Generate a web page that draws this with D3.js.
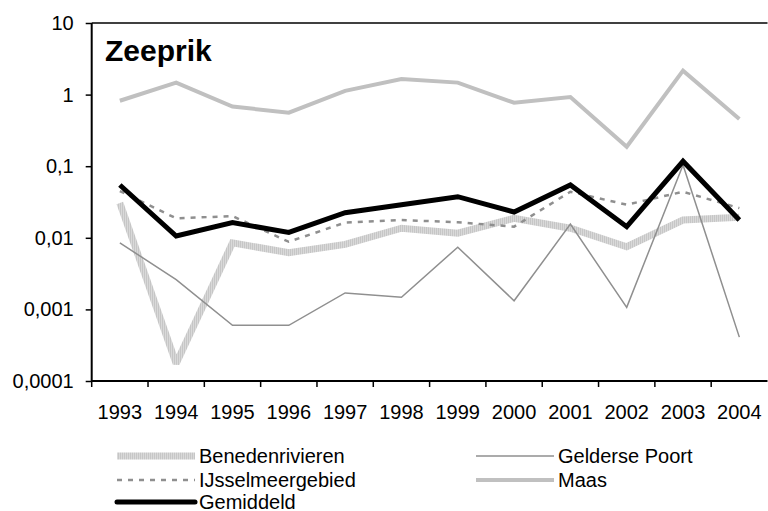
<!DOCTYPE html>
<html>
<head>
<meta charset="utf-8">
<script src="https://cdn.jsdelivr.net/npm/d3@7"></script>
<style>
  body { margin: 0; background: #fff; }
  text { font-family: "Liberation Sans", Arial, sans-serif; }
</style>
</head>
<body>
<div id="chart"></div>
<script>
var years = ["1993","1994","1995","1996","1997","1998","1999","2000","2001","2002","2003","2004"];

var benedenrivieren = [0.0306, 0.000175, 0.0085, 0.0062, 0.0081, 0.0136, 0.0116, 0.0187, 0.0136, 0.0075, 0.0177, 0.0193];
var geldersePoort   = [0.0085, 0.0026, 0.0006, 0.0006, 0.0017, 0.00148, 0.0074, 0.00132, 0.0155, 0.00107, 0.104, 0.00041];
var ijsselmeer      = [0.045, 0.0187, 0.0201, 0.0088, 0.0163, 0.0177, 0.0165, 0.0143, 0.044, 0.029, 0.044, 0.026];
var maas            = [0.82, 1.47, 0.68, 0.56, 1.13, 1.65, 1.47, 0.77, 0.925, 0.187, 2.16, 0.456];
var gemiddeld       = [0.0546, 0.0106, 0.0163, 0.0119, 0.0224, 0.029, 0.0375, 0.0229, 0.0546, 0.0143, 0.117, 0.0177];

var yTicks = [0.0001, 0.001, 0.01, 0.1, 1, 10];
var yTickLabels = ["0,0001", "0,001", "0,01", "0,1", "1", "10"];
var title = "Zeeprik";

var W = 768, H = 511;
var plot = {left: 91.7, right: 767.5, top: 23, bottom: 381};

var x = d3.scaleBand()
          .domain(years)
          .range([plot.left, plot.right]);

var y = d3.scaleLog()
          .domain([0.0001, 10])
          .range([plot.bottom, plot.top]);

var svg = d3.select("#chart")
            .append("svg")
              .attr("width", W)
              .attr("height", H);

// striped texture for Benedenrivieren
var pat = svg.append("defs").append("pattern")
    .attr("id", "stripes")
    .attr("patternUnits", "userSpaceOnUse")
    .attr("width", 2)
    .attr("height", 2);
pat.append("rect").attr("width", 2).attr("height", 2).attr("fill", "#d9d9d9");
pat.append("rect").attr("width", 1).attr("height", 2).attr("fill", "#c6c6c6");

// top border of plot area
svg.append("line")
   .attr("x1", plot.left).attr("x2", plot.right)
   .attr("y1", plot.top).attr("y2", plot.top)
   .attr("stroke", "black")
   .attr("stroke-width", 1.5);

var series = [
  {name: "Benedenrivieren", values: benedenrivieren, stroke: "url(#stripes)", width: 7, dash: null, miter: 2},
  {name: "Gelderse Poort", values: geldersePoort, stroke: "#8f8f8f", width: 1.5, dash: null, miter: 10},
  {name: "IJsselmeergebied", values: ijsselmeer, stroke: "#8f8f8f", width: 2.5, dash: "5,6", miter: 4},
  {name: "Maas", values: maas, stroke: "#c0c0c0", width: 4, dash: null, miter: 4},
  {name: "Gemiddeld", values: gemiddeld, stroke: "black", width: 5, dash: null, miter: 4}
];

var line = d3.line()
    .x(function(d, i) { return x(years[i]) + x.bandwidth() / 2; })
    .y(function(d) { return y(d); });

series.forEach(function(s) {
  svg.append("path")
     .datum(s.values)
     .attr("fill", "none")
     .attr("stroke", s.stroke)
     .attr("stroke-width", s.width)
     .attr("stroke-linejoin", "miter")
     .attr("stroke-miterlimit", s.miter)
     .attr("stroke-dasharray", s.dash)
     .attr("d", line);
});

// y axis
var yAxis = svg.append("g")
   .attr("transform", "translate(" + plot.left + ",0)")
   .call(d3.axisLeft(y)
           .tickValues(yTicks)
           .tickSize(6)
           .tickPadding(12)
           .tickFormat(function(d, i) { return yTickLabels[i]; }));
yAxis.select(".domain").attr("stroke-width", 2).attr("d", "M0," + plot.top + "V" + plot.bottom);
yAxis.selectAll(".tick line").attr("stroke-width", 1.5);
yAxis.selectAll("text")
     .style("font-family", "Liberation Sans, Arial, sans-serif")
     .style("font-size", "20px")
     .attr("fill", "black");

// x axis, ticks between categories
var xAxis = svg.append("g")
   .attr("transform", "translate(0," + plot.bottom + ")");
xAxis.append("line")
     .attr("x1", plot.left).attr("x2", plot.right)
     .attr("stroke", "black").attr("stroke-width", 2);
xAxis.selectAll(".xtick")
     .data(years)
     .enter().append("line")
       .attr("x1", function(d) { return x(d); })
       .attr("x2", function(d) { return x(d); })
       .attr("y1", 0).attr("y2", 6)
       .attr("stroke", "black").attr("stroke-width", 1.5);
xAxis.selectAll(".xlab")
     .data(years)
     .enter().append("text")
       .attr("x", function(d) { return x(d) + x.bandwidth() / 2; })
       .attr("y", 38)
       .attr("text-anchor", "middle")
       .style("font-size", "20px")
       .text(function(d) { return d; });

svg.append("text")
   .attr("x", 105)
   .attr("y", 61)
   .style("font-size", "30px")
   .style("font-weight", "bold")
   .text(title);

// legend
var legendPos = [
  {x: 117, y: 456}, {x: 476, y: 456},
  {x: 117, y: 480}, {x: 476, y: 480},
  {x: 117, y: 502}
];
var legendNames = ["Benedenrivieren", "Gelderse Poort", "IJsselmeergebied", "Maas", "Gemiddeld"];
legendNames.forEach(function(name, i) {
  var s = series.filter(function(d) { return d.name == name; })[0];
  var p = legendPos[i];
  svg.append("line")
     .attr("x1", p.x).attr("x2", p.x + 78)
     .attr("y1", p.y).attr("y2", p.y)
     .attr("stroke", s.stroke)
     .attr("stroke-width", s.width)
     .attr("stroke-linecap", s.name == "Gemiddeld" ? "round" : "butt")
     .attr("stroke-dasharray", s.dash);
  svg.append("text")
     .attr("x", p.x + 82)
     .attr("y", p.y + 7)
     .style("font-size", "20px")
     .text(name);
});
</script>
</body>
</html>
